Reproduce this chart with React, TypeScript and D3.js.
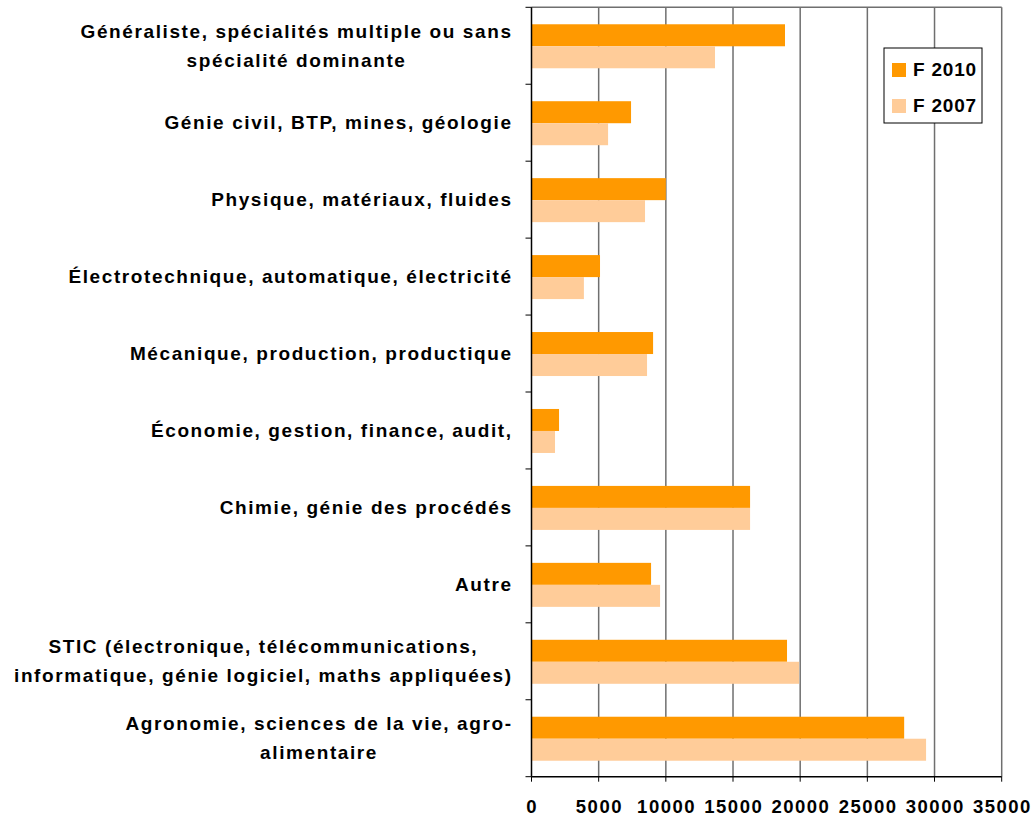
import React from "react";
import * as d3 from "d3";

const categories: string[][] = [
  ["Généraliste, spécialités multiple ou sans", "spécialité dominante"],
  ["Génie civil, BTP, mines, géologie"],
  ["Physique, matériaux, fluides"],
  ["Électrotechnique, automatique, électricité"],
  ["Mécanique, production, productique"],
  ["Économie, gestion, finance, audit,"],
  ["Chimie, génie des procédés"],
  ["Autre"],
  ["STIC (électronique, télécommunications,", "informatique, génie logiciel, maths appliquées)"],
  ["Agronomie, sciences de la vie, agro-", "alimentaire"],
];
const f2010: number[] = [18870, 7410, 10000, 5100, 9050, 2050, 16270, 8900, 19020, 27740];
const f2007: number[] = [13660, 5700, 8450, 3900, 8600, 1750, 16270, 9570, 19920, 29370];
const xTicks: number[] = [0, 5000, 10000, 15000, 20000, 25000, 30000, 35000];
const seriesNames = ["F 2010", "F 2007"];
const seriesColors = ["#FF9900", "#FFCC99"];

const W = 1036;
const H = 818;
const left = 531.5;
const right = 1001.7;
const top = 7.3;
const bottom = 776.7;
const FONT = "'Liberation Sans', Arial, sans-serif";
const LS = 1.6;

export default function App() {
  const x = d3.scaleLinear().domain([0, 35000]).range([left, right]);
  const y = d3.scaleBand<number>().domain(d3.range(categories.length)).range([top, bottom]).paddingInner(0).paddingOuter(0);
  const bw = y.bandwidth();
  const groupH = 44;
  const inner = d3.scaleBand<number>().domain([0, 1]).range([(bw - groupH) / 2 + 0.5, (bw + groupH) / 2 + 0.5]);
  const series = [f2010, f2007];
  const labelRight = 511 + LS;
  const lineH = 29;

  return (
    <svg width={W} height={H} style={{ position: "absolute", left: 0, top: 0, background: "#fff" }} fontFamily={FONT}>
      {xTicks.slice(1).map((t) => (
        <line key={"g" + t} x1={x(t)} x2={x(t)} y1={top} y2={bottom} stroke="#6f6f6f" strokeWidth={1.5} />
      ))}
      <line x1={left} x2={right} y1={top} y2={top} stroke="#6f6f6f" strokeWidth={1.5} />
      {categories.map((_, i) => (
        <g key={"c" + i} transform={`translate(0,${y(i)})`}>
          {series.map((s, k) => (
            <rect key={k} x={x(0)} y={inner(k)} width={x(s[i]) - x(0)} height={inner.bandwidth()} fill={seriesColors[k]} />
          ))}
        </g>
      ))}
      <line x1={left} x2={left} y1={top} y2={bottom} stroke="#000" strokeWidth={1.5} />
      {d3.range(categories.length + 1).map((i) => {
        const yy = top + i * bw;
        return <line key={"yt" + i} x1={left - 6} x2={left} y1={yy} y2={yy} stroke="#000" strokeWidth={1} />;
      })}
      <line x1={left} x2={right} y1={bottom} y2={bottom} stroke="#000" strokeWidth={1.5} />
      {xTicks.map((t) => (
        <g key={"xt" + t}>
          <line x1={x(t)} x2={x(t)} y1={bottom} y2={bottom + 5} stroke="#000" strokeWidth={1} />
          <text x={x(t) + 0.75} y={813} textAnchor="middle" fontSize={18.5} fontWeight="bold" letterSpacing={1.5} fill="#000">
            {t}
          </text>
        </g>
      ))}
      {categories.map((lines, i) => {
        const cy = (y(i) as number) + bw / 2;
        const n = lines.length;
        return (
          <g key={"l" + i}>
            {lines.map((ln, j) => (
              <text
                key={j}
                className="catlabel"
                x={labelRight}
                y={cy + (j - (n - 1) / 2) * lineH + 6.5}
                textAnchor={n === 1 ? "end" : "middle"}
                fontSize={19}
                fontWeight="bold"
                letterSpacing={LS}
                fill="#000"
                data-block={i}
              >
                {ln}
              </text>
            ))}
          </g>
        );
      })}
      <rect x={884} y={48} width={98} height={75} fill="#fff" stroke="#000" strokeWidth={1} />
      {seriesNames.map((s, k) => (
        <g key={"lg" + k}>
          <rect x={892} y={63 + k * 36} width={14} height={14} fill={seriesColors[k]} />
          <text x={913} y={76 + k * 36} fontSize={19} fontWeight="bold" letterSpacing={0.8} fill="#000">
            {s}
          </text>
        </g>
      ))}
      <LabelFix />
    </svg>
  );
}

function LabelFix() {
  const ref = React.useRef<SVGGElement>(null);
  React.useEffect(() => {
    const svg = ref.current?.ownerSVGElement;
    if (!svg) return;
    const groups = d3.group(Array.from(svg.querySelectorAll("text.catlabel")) as SVGTextElement[], (t) => t.getAttribute("data-block"));
    groups.forEach((texts) => {
      if (texts.length < 2) return;
      const maxW = d3.max(texts, (t) => t.getComputedTextLength()) || 0;
      const cx = 511 + LS - maxW / 2;
      texts.forEach((t) => t.setAttribute("x", String(cx)));
    });
  }, []);
  return <g ref={ref} />;
}
